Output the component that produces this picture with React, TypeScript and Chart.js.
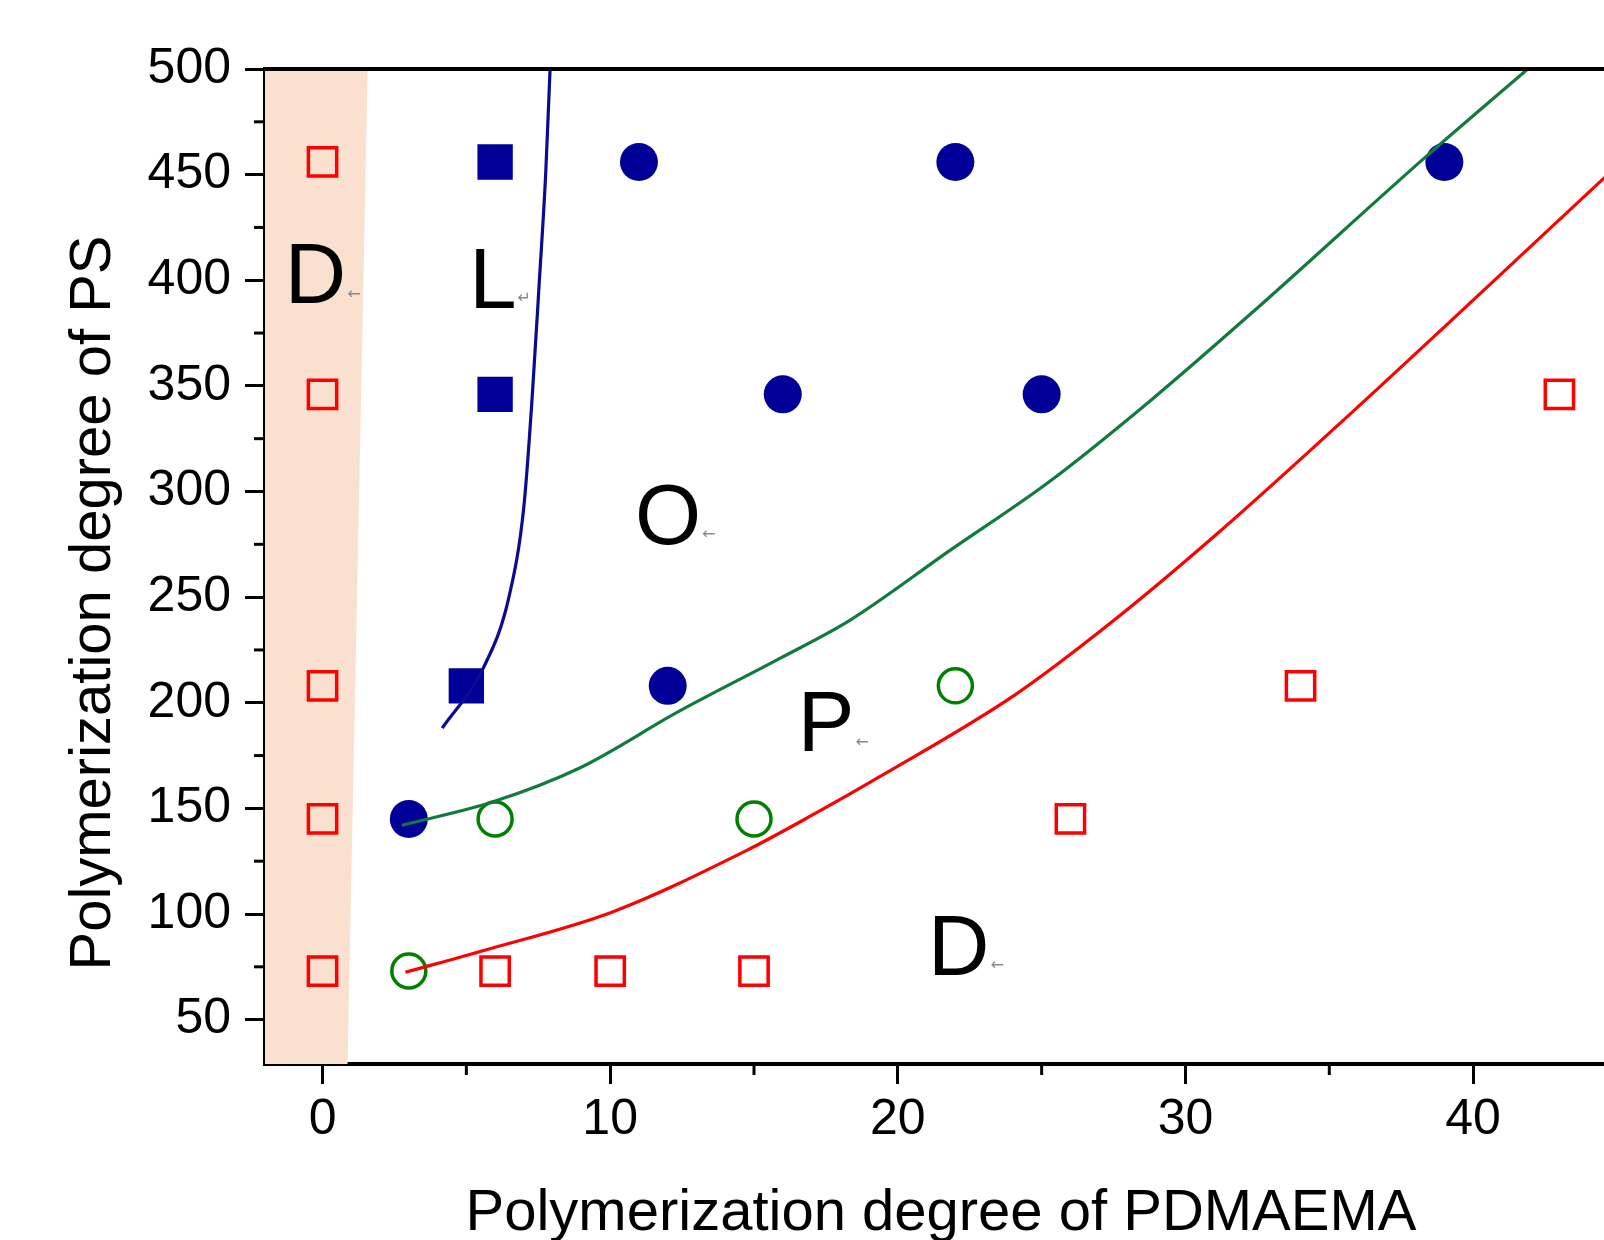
import React, { useEffect, useRef } from 'react';
import { Chart, registerables } from 'chart.js';

Chart.register(...registerables);

// ---- data ----
const disorderX = [0, 0, 0, 0, 0, 6, 10, 15, 26, 34, 43];
const disorderY = [456, 346, 208, 145, 73, 73, 73, 73, 145, 208, 346];
const lamellarX = [6, 6, 5];
const lamellarY = [456, 346, 208];
const orderedX = [11, 22, 39, 16, 25, 12, 3];
const orderedY = [456, 456, 456, 346, 346, 208, 145];
const percolX = [6, 15, 22, 3];
const percolY = [145, 145, 208, 73];

const blueLineX = [4.16, 5.61, 6.48, 7.0, 7.29, 7.53, 7.76, 7.91];
const blueLineY = [188, 217, 250, 293, 345, 398, 451, 500];
const greenLineX = [2.76, 5.9, 8.92, 12.4, 15.9, 18.33, 21.8, 25.3, 28.78, 32.26, 38.4, 41.9];
const greenLineY = [142, 153, 169, 196, 221, 239, 272, 305, 343, 384, 459, 500];
const redLineX = [2.88, 5.67, 10.08, 14.73, 17.05, 19.37, 24.1, 27.6, 31.1, 35.75, 44.6];
const redLineY = [72.4, 83, 101, 130, 147, 165, 204, 240, 280, 337, 449];

const shadeX = [-2, 1.57, 0.87, -2];
const shadeY = [500, 500, 29, 29];

const xTicks = [0, 10, 20, 30, 40];
const xMinorTicks = [5, 15, 25, 35];
const yTicks = [50, 100, 150, 200, 250, 300, 350, 400, 450, 500];
const yMinorTicks = [75, 125, 175, 225, 275, 325, 375, 425, 475];

const phaseLabels = ['D', 'L', 'O', 'P', 'D'];
const phaseLabelX = [-1.31, 5.1, 10.86, 16.52, 21.05];
const phaseLabelY = [389, 387, 275, 177, 71.3];
const phaseMarks = ['\u2190', '\u21B5', '\u2190', '\u2190', '\u2190'];

const xTitle = 'Polymerization degree of PDMAEMA';
const yTitle = 'Polymerization degree of PS';

const FONT = "'Liberation Sans', Arial, sans-serif";

const pts = (xs: number[], ys: number[]) => xs.map((x, i) => ({ x, y: ys[i] }));

const decor = {
  id: 'decor',
  beforeDatasetsDraw(chart: any) {
    const { ctx, chartArea, scales } = chart;
    const x = scales.x;
    const y = scales.y;
    ctx.save();
    ctx.beginPath();
    ctx.rect(chartArea.left, chartArea.top, chartArea.right - chartArea.left, chartArea.bottom - chartArea.top);
    ctx.clip();
    ctx.beginPath();
    shadeX.forEach((v, i) => {
      const px = x.getPixelForValue(v);
      const py = y.getPixelForValue(shadeY[i]);
      if (i === 0) ctx.moveTo(px, py);
      else ctx.lineTo(px, py);
    });
    ctx.closePath();
    ctx.fillStyle = '#FAE1CF';
    ctx.fill();
    ctx.restore();
  },
  afterDraw(chart: any) {
    const { ctx, chartArea, scales } = chart;
    const x = scales.x;
    const y = scales.y;
    ctx.save();
    // top border
    ctx.strokeStyle = '#000';
    ctx.lineWidth = 4;
    ctx.beginPath();
    ctx.moveTo(chartArea.left - 2, chartArea.top);
    ctx.lineTo(chartArea.right + 2, chartArea.top);
    ctx.stroke();
    // minor ticks
    ctx.lineWidth = 3;
    xMinorTicks.forEach((v) => {
      const px = x.getPixelForValue(v);
      ctx.beginPath();
      ctx.moveTo(px, chartArea.bottom);
      ctx.lineTo(px, chartArea.bottom + 11);
      ctx.stroke();
    });
    yMinorTicks.forEach((v) => {
      const py = y.getPixelForValue(v);
      ctx.beginPath();
      ctx.moveTo(chartArea.left, py);
      ctx.lineTo(chartArea.left - 11, py);
      ctx.stroke();
    });
    // phase labels
    phaseLabels.forEach((t, i) => {
      const px = x.getPixelForValue(phaseLabelX[i]);
      const py = y.getPixelForValue(phaseLabelY[i]);
      ctx.font = `85px ${FONT}`;
      ctx.fillStyle = '#000';
      ctx.textAlign = 'left';
      ctx.textBaseline = 'alphabetic';
      ctx.fillText(t, px, py);
      const w = ctx.measureText(t).width;
      ctx.font = `16px 'DejaVu Sans', sans-serif`;
      ctx.fillStyle = '#8a8a8a';
      ctx.textBaseline = 'middle';
      ctx.fillText(phaseMarks[i], px + w + 1, py - 9);
    });
    // axis titles
    ctx.fillStyle = '#000';
    ctx.font = `58px ${FONT}`;
    ctx.textAlign = 'center';
    ctx.textBaseline = 'alphabetic';
    ctx.fillText(xTitle, 941, 1230);
    ctx.translate(110, 603);
    ctx.rotate(-Math.PI / 2);
    ctx.fillText(yTitle, 0, 0);
    ctx.restore();
  },
};

export default function App() {
  const ref = useRef<HTMLCanvasElement | null>(null);
  useEffect(() => {
    const canvas = ref.current;
    if (!canvas) return;
    const lineDs = (xs: number[], ys: number[], color: string) => ({
      type: 'line',
      data: pts(xs, ys),
      borderColor: color,
      borderWidth: 3.2,
      pointRadius: 0,
      showLine: true,
      fill: false,
      cubicInterpolationMode: 'monotone',
    });
    const chart = new Chart(canvas, {
      type: 'line',
      data: {
        datasets: [
          lineDs(blueLineX, blueLineY, '#0A0A92'),
          lineDs(greenLineX, greenLineY, '#137A3F'),
          lineDs(redLineX, redLineY, '#FF0000'),
          {
            data: pts(disorderX, disorderY),
            showLine: false,
            pointStyle: 'rect',
            pointRadius: 20,
            pointBorderWidth: 3.5,
            pointBorderColor: '#FF0000',
            pointBackgroundColor: 'rgba(0,0,0,0)',
          },
          {
            data: pts(lamellarX, lamellarY),
            showLine: false,
            pointStyle: 'rect',
            pointRadius: 25,
            pointBorderWidth: 0,
            pointBackgroundColor: '#000099',
          },
          {
            data: pts(orderedX, orderedY),
            showLine: false,
            pointStyle: 'circle',
            pointRadius: 19,
            pointBorderWidth: 0,
            pointBackgroundColor: '#000099',
          },
          {
            data: pts(percolX, percolY),
            showLine: false,
            pointStyle: 'circle',
            pointRadius: 17,
            pointBorderWidth: 3.5,
            pointBorderColor: '#008000',
            pointBackgroundColor: 'rgba(0,0,0,0)',
          },
        ] as any,
      },
      options: {
        animation: false,
        responsive: false,
        events: [],
        layout: { autoPadding: false, padding: { top: 69, left: 0, right: 0, bottom: 0 } },
        plugins: { legend: { display: false }, tooltip: { enabled: false } },
        scales: {
          x: {
            type: 'linear',
            min: -2,
            max: 44.55,
            afterBuildTicks: (s: any) => {
              s.ticks = xTicks.map((v) => ({ value: v }));
            },
            afterFit: (s: any) => {
              s.height = 176;
            },
            grid: { drawOnChartArea: false, drawTicks: true, tickLength: 20, tickWidth: 3, tickColor: '#000' },
            border: { display: true, color: '#000', width: 4 },
            ticks: {
              autoSkip: false,
              maxRotation: 0,
              padding: 6,
              color: '#000',
              font: { family: FONT, size: 50 },
              callback: (v: any) => String(v),
            },
          },
          y: {
            type: 'linear',
            min: 29,
            max: 500,
            afterBuildTicks: (s: any) => {
              s.ticks = yTicks.map((v) => ({ value: v }));
            },
            afterFit: (s: any) => {
              s.width = 265;
            },
            grid: { drawOnChartArea: false, drawTicks: true, tickLength: 20, tickWidth: 3, tickColor: '#000' },
            border: { display: true, color: '#000', width: 4 },
            ticks: {
              autoSkip: false,
              padding: 14,
              color: '#000',
              font: { family: FONT, size: 50 },
              callback: (v: any) => String(v),
            },
          },
        },
      } as any,
      plugins: [decor],
    });
    return () => chart.destroy();
  }, []);
  return (
    <div style={{ position: 'fixed', left: 0, top: 0, width: 1604, height: 1240, background: '#fff' }}>
      <canvas ref={ref} width={1604} height={1240} style={{ display: 'block' }} />
    </div>
  );
}
